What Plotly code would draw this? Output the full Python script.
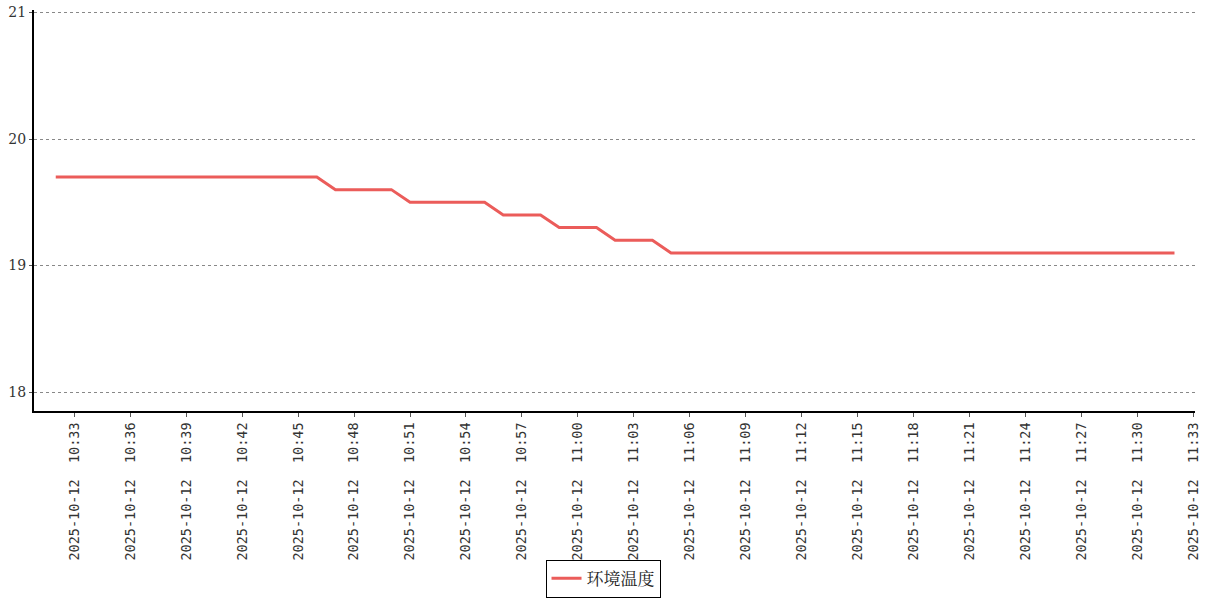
import plotly.graph_objects as go
import pandas as pd

start_time = "2025-10-12 10:32"
series_name = "环境温度"
temps = [19.7]*15 + [19.6]*4 + [19.5]*5 + [19.4]*3 + [19.3]*3 + [19.2]*3 + [19.1]*28
times = pd.date_range(start_time, periods=len(temps), freq="1min")

y_ticks = [18, 19, 20, 21]

fig = go.Figure()
fig.add_trace(go.Scatter(
    x=times, y=temps, mode="lines", name=series_name,
    line=dict(color="#eb5c5a", width=3),
))

fig.update_layout(
    width=1207, height=600,
    margin=dict(l=34, r=12, t=10, b=189),
    plot_bgcolor="white", paper_bgcolor="white",
    showlegend=True,
    legend=dict(
        orientation="h", xref="container", yref="container",
        x=0.4996, xanchor="center", y=0.004, yanchor="bottom",
        bordercolor="#000", borderwidth=1,
        font=dict(family="Noto Serif CJK SC, Noto Sans CJK SC", size=17, color="#222"),
    ),
)

fig.update_xaxes(
    type="date", automargin=False,
    range=["2025-10-12 10:30:50", "2025-10-12 11:33:06"],
    tick0="2025-10-12 10:33", dtick=180000,
    tickformat="%Y-%m-%d\u00a0\u00a0%H:%M",
    tickangle=-90,
    ticklabeloverflow="allow",
    tickfont=dict(family="DejaVu Sans Mono", size=13.5, color="#333"),
    showline=True, linecolor="#000", linewidth=2,
    ticks="outside", ticklen=4, tickcolor="#555",
    showgrid=False, zeroline=False,
)
fig.update_yaxes(
    automargin=False,
    range=[17.85, 21.02],
    tickvals=y_ticks,
    ticklabeloverflow="allow",
    tickfont=dict(family="DejaVu Serif", size=14, color="#333"),
    showline=True, linecolor="#000", linewidth=2,
    ticks="outside", ticklen=3, tickcolor="#555",
    showgrid=True, gridcolor="#888", griddash="dot", gridwidth=1,
    zeroline=False,
)

fig.write_html("out.html", config={"displayModeBar": False},
               post_script="document.body.style.margin='0';")
